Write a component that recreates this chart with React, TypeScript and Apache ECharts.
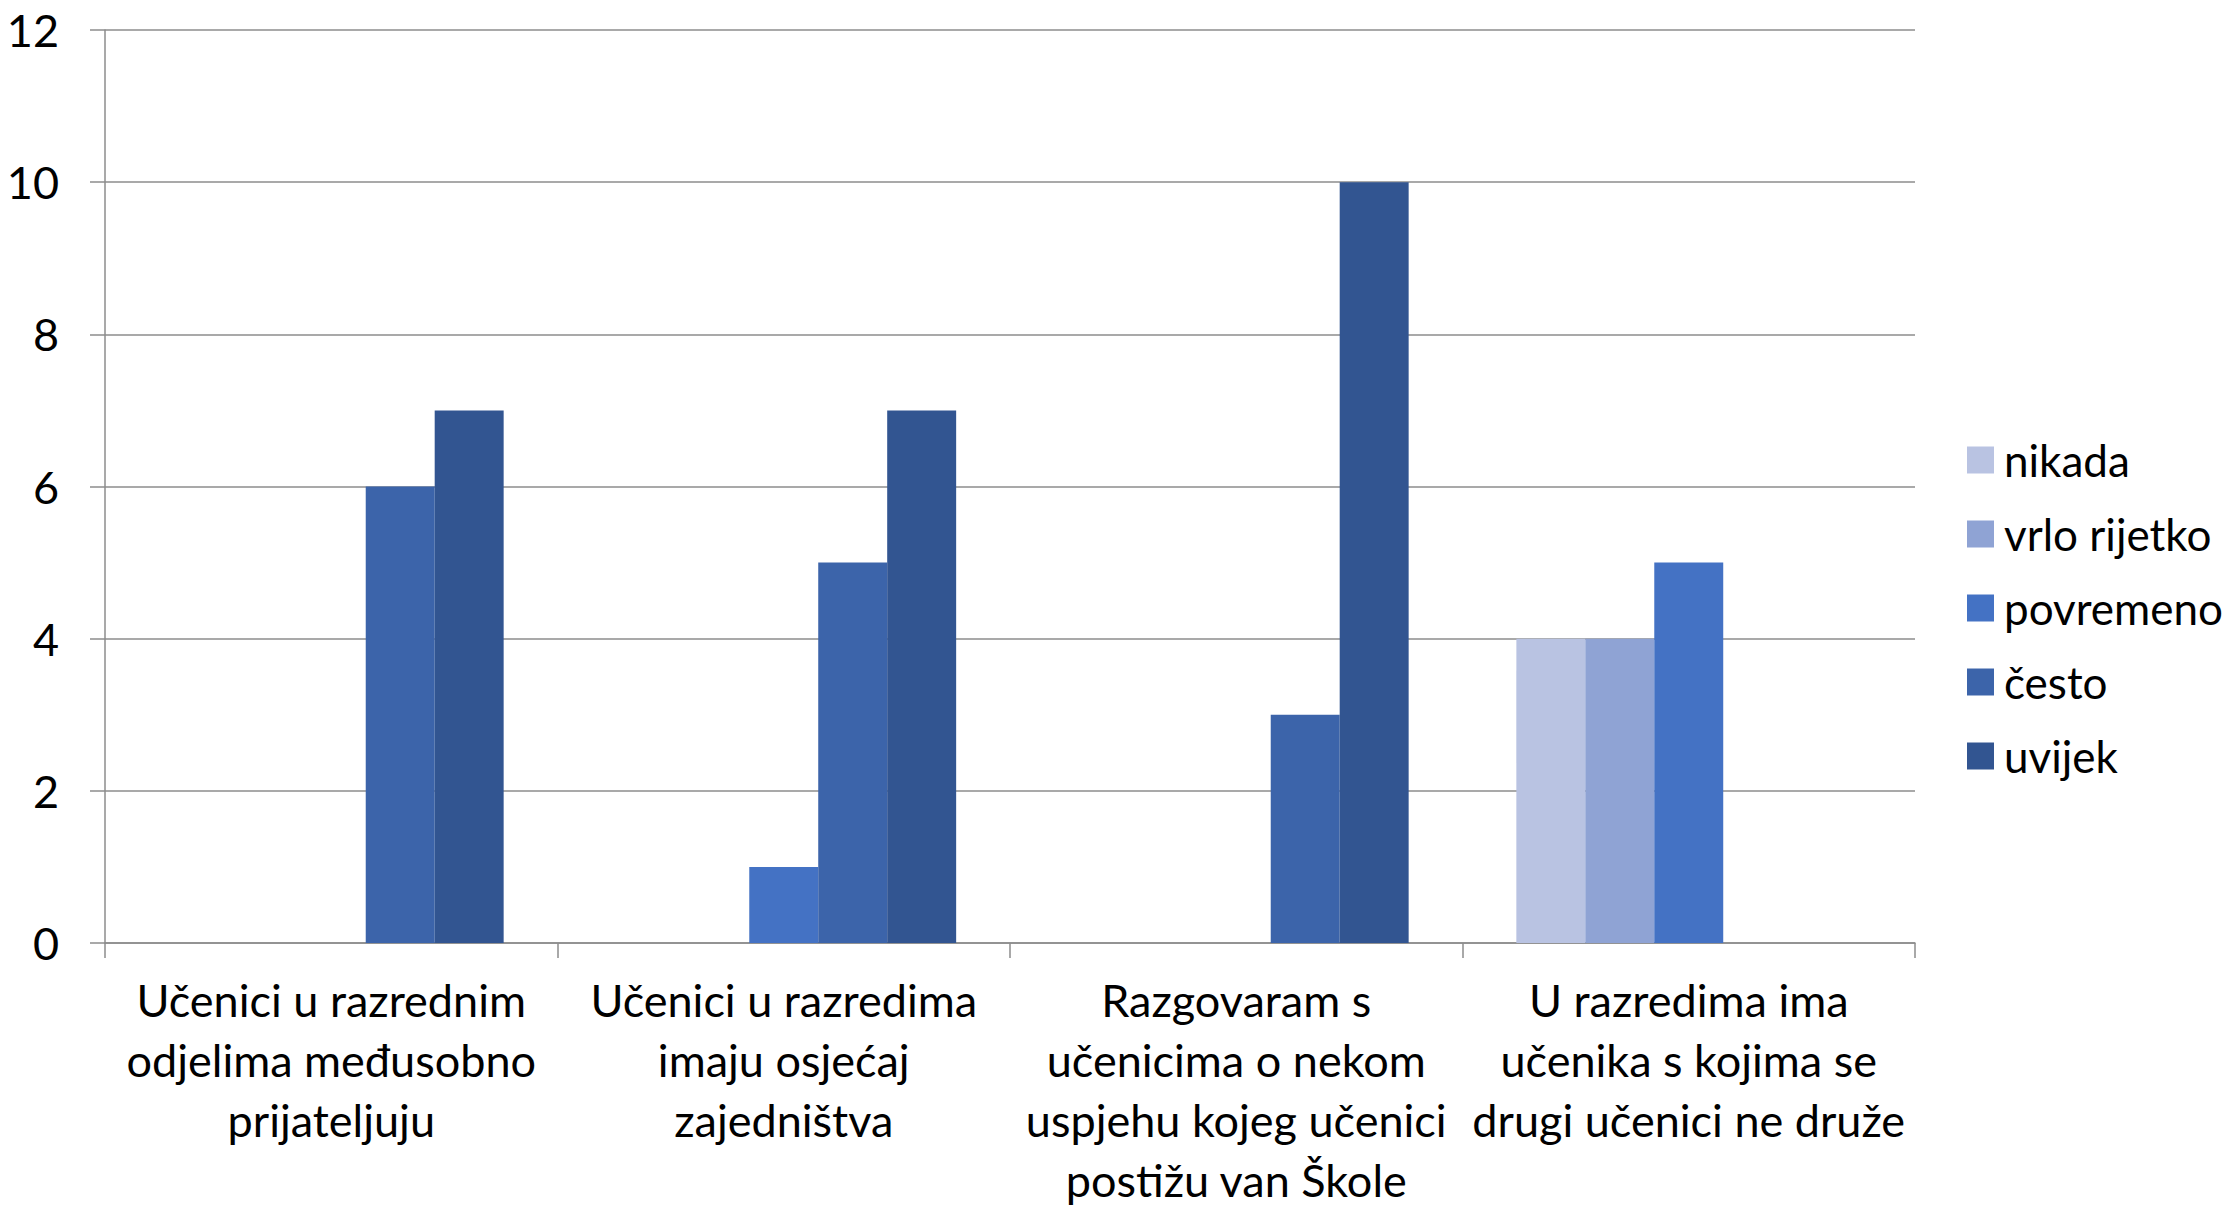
import React, { useEffect, useRef } from "react";
import * as echarts from "echarts";

const categories: string[] = [
  "Učenici u razrednim\nodjelima međusobno\nprijateljuju",
  "Učenici u razredima\nimaju osjećaj\nzajedništva",
  "Razgovaram s\nučenicima o nekom\nuspjehu kojeg učenici\npostižu van Škole",
  "U razredima ima\nučenika s kojima se\ndrugi učenici ne druže",
];

const seriesNames: string[] = ["nikada", "vrlo rijetko", "povremeno", "često", "uvijek"];

const nikada: number[] = [0, 0, 0, 4];
const vrloRijetko: number[] = [0, 0, 0, 4];
const povremeno: number[] = [0, 1, 0, 5];
const cesto: number[] = [6, 5, 3, 0];
const uvijek: number[] = [7, 7, 10, 0];

const seriesValues: number[][] = [nikada, vrloRijetko, povremeno, cesto, uvijek];
const seriesColors: string[] = ["#B9C3E2", "#8FA3D4", "#4472C4", "#3C64AA", "#325591"];

const yTicks = { min: 0, max: 12, interval: 2 };

const FONT = "Lato, 'Open Sans', sans-serif";

export default function App() {
  const ref = useRef<HTMLDivElement>(null);
  useEffect(() => {
    document.body.style.margin = "0";
    document.body.style.overflow = "hidden";
    document.documentElement.style.overflow = "hidden";
    if (!ref.current) return;
    const chart = echarts.init(ref.current, undefined, { renderer: "svg" });
    chart.setOption({
      animation: false,
      backgroundColor: "#ffffff",
      textStyle: { fontFamily: FONT },
      grid: { left: 105, right: 317, top: 30, bottom: 260, containLabel: false },
      legend: {
        orient: "vertical",
        left: 1962,
        top: 430,
        itemWidth: 27,
        itemHeight: 27,
        itemGap: 24,
        icon: "rect",
        data: seriesNames,
        textStyle: { fontSize: 44, color: "#000", lineHeight: 50, fontFamily: FONT, padding: [0, 0, 0, 5] },
      },
      xAxis: {
        type: "category",
        data: categories,
        axisLine: { show: true, lineStyle: { color: "#8c8c8c", width: 1.5 } },
        axisTick: { show: true, length: 15, lineStyle: { color: "#8c8c8c", width: 1.5 } },
        axisLabel: {
          interval: 0,
          margin: 27,
          fontSize: 45,
          lineHeight: 60,
          color: "#000",
          fontFamily: FONT,
          align: "center",
        },
        splitLine: { show: false },
      },
      yAxis: {
        type: "value",
        min: yTicks.min,
        max: yTicks.max,
        interval: yTicks.interval,
        axisLine: { show: true, lineStyle: { color: "#8c8c8c", width: 1.5 } },
        axisTick: { show: true, length: 15, lineStyle: { color: "#8c8c8c", width: 1.5 } },
        axisLabel: { margin: 46, fontSize: 45, color: "#000", fontFamily: FONT },
        splitLine: { show: true, lineStyle: { color: "#8c8c8c", width: 1.5 } },
      },
      series: seriesNames.map((name, i) => ({
        name,
        type: "bar",
        data: seriesValues[i],
        barGap: "0%",
        barCategoryGap: "23.8%",
        itemStyle: { color: seriesColors[i] },
      })),
    });
    return () => chart.dispose();
  }, []);
  return <div ref={ref} style={{ width: 2232, height: 1210, overflow: "hidden" }} />;
}
